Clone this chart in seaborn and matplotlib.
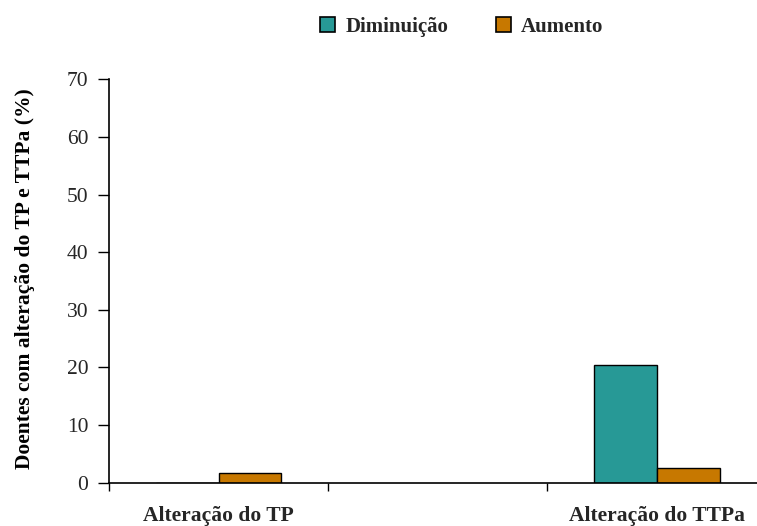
import matplotlib
matplotlib.use("Agg")
import matplotlib.pyplot as plt
import matplotlib.patches as mpatches
import seaborn as sns
import pandas as pd

# Data
categories = ["Alteração do TP", " ", "Alteração do TTPa"]
series = ["Diminuição", "Aumento"]
diminuicao = [0.0, None, 20.5]
aumento = [1.7, None, 2.5]
colors = ["#279996", "#C77800"]

rows = []
for cat, d, a in zip(categories, diminuicao, aumento):
    if d is not None:
        rows.append({"cat": cat, "serie": series[0], "valor": d})
    if a is not None:
        rows.append({"cat": cat, "serie": series[1], "valor": a})
df = pd.DataFrame(rows)

sns.set_theme(style="white")
plt.rcParams["font.family"] = ["Liberation Serif", "DejaVu Serif"]

fig = plt.figure(figsize=(7.57, 5.26), dpi=100)
ax = fig.add_axes([0.144, 0.0823, 0.868, 0.7669])

sns.barplot(data=df, x="cat", y="valor", hue="serie", order=categories,
            hue_order=series, palette=colors, width=0.575, dodge=True,
            edgecolor="black", linewidth=1.0, saturation=1, legend=False, ax=ax)

ax.set_xlim(-0.5, 2.5)
ax.set_ylim(0, 70)
ax.set_yticks(range(0, 71, 10))
ax.tick_params(axis="y", direction="out", length=8, width=1, color="black",
               labelsize=15.5, pad=7, left=True)

# category boundaries carry the tick marks, names sit at the centres
ax.set_xticks([-0.5, 0.5, 1.5, 2.5])
ax.set_xticklabels([])
ax.tick_params(axis="x", which="major", direction="out", length=6, width=1,
               color="black", bottom=True)
ax.set_xticks([0, 1, 2], minor=True)
ax.set_xticklabels(categories, minor=True, fontsize=15.5, fontweight="bold")
ax.tick_params(axis="x", which="minor", length=0, pad=17)

for side in ["top", "right"]:
    ax.spines[side].set_visible(False)
for side in ["left", "bottom"]:
    ax.spines[side].set_color("black")
    ax.spines[side].set_linewidth(1.2)

ax.set_xlabel("")
ax.set_ylabel("Doentes com alteração do TP e TTPa (%)", fontsize=15.5,
              fontweight="bold", color="black")
ax.yaxis.set_label_coords(-0.113, 0.505)

handles = [mpatches.Patch(facecolor=c, edgecolor="black", linewidth=1.2, label=s)
           for c, s in zip(colors, series)]
fig.legend(handles=handles, loc="center", bbox_to_anchor=(0.61, 0.949), ncol=2,
           frameon=False, prop={"family": "Liberation Serif", "weight": "bold", "size": 15},
           handlelength=0.7, handleheight=0.7, handletextpad=0.5, columnspacing=2.3)

fig.savefig("out.png", dpi=100)
